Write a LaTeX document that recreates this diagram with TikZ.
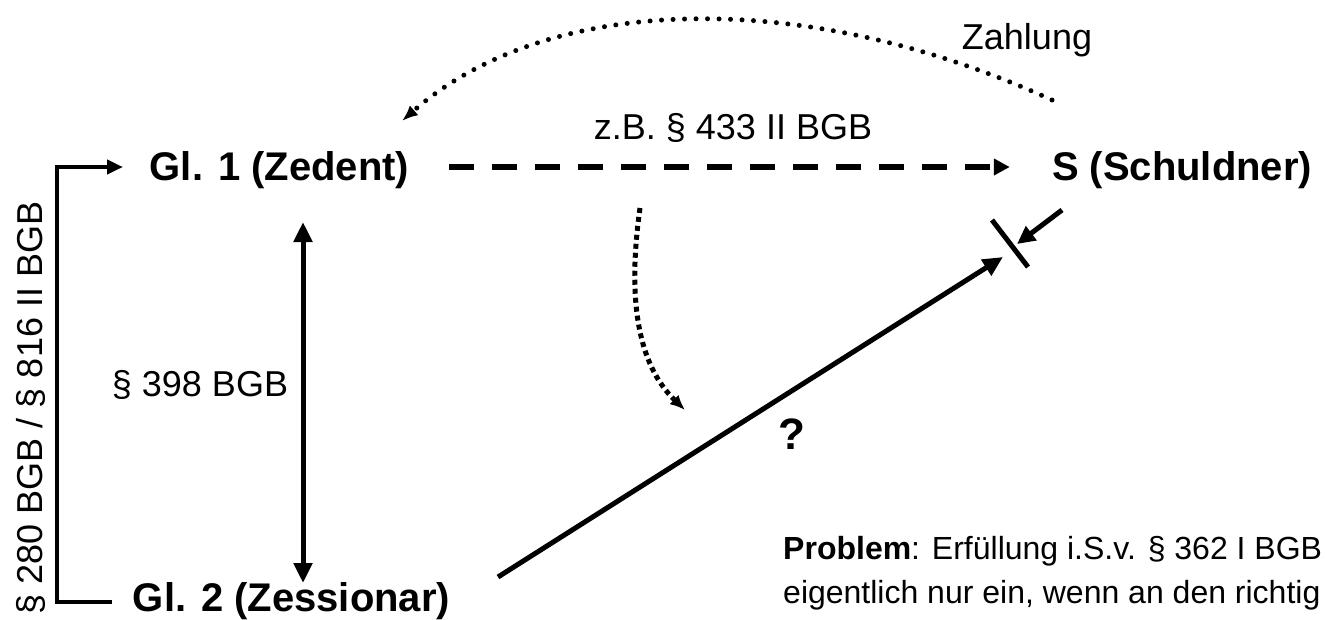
\documentclass[tikz,border=0pt]{standalone}
\usepackage{fontspec}
\setmainfont{Liberation Sans}
\usetikzlibrary{arrows.meta}
\tikzset{
  party/.style={inner sep=0pt, anchor=base, font=\fontsize{40}{47}\selectfont\bfseries},
  lbl/.style={inner sep=0pt, font=\fontsize{36}{43}\selectfont},
  thickline/.style={line width=5pt},
  dotround/.style={line width=5pt, line cap=round, dash pattern=on 0pt off 11.5pt},
  dotsquare/.style={line width=5pt, dash pattern=on 5pt off 4pt},
}
\begin{document}
\begin{tikzpicture}[x=1pt,y=-1pt]
\useasboundingbox (0,0) rectangle (1325,619);
\clip (0,0) rectangle (1325,619);

% parties
\node[party] (g1) at (279.5,180) {Gl. 1 (Zedent)};
\node[party] (s)  at (1182,180) {S (Schuldner)};
\node[party] (g2) at (291.5,611) {Gl. 2 (Zessionar)};

% labels
\node[lbl] (zb) at (733,128) {z.B. § 433 II BGB};
\node[lbl] (za) at (1027,40) {Zahlung};
\node[lbl] (p398) at (200,385) {§ 398 BGB};
\node[lbl, rotate=90] (p280) at (31,408) {§ 280 BGB / § 816 II BGB};
\node[inner sep=0pt, font=\fontsize{44}{50}\selectfont\bfseries] (q) at (792,434) {?};
\node[inner sep=0pt, anchor=base west, font=\fontsize{32}{38}\selectfont] (pr1) at (783,559) {\textbf{Problem}: Erfüllung i.S.v. § 362 I BGB};
\node[inner sep=0pt, anchor=base west, font=\fontsize{32}{38}\selectfont] (pr2) at (783,603) {eigentlich nur ein, wenn an den richtig};

% dashed arrow Gl.1 -> S
\coordinate (dstart) at ([xshift=40pt]g1.east |- 0,167);
\coordinate (dend) at ([xshift=-42pt]s.west |- 0,167);
\draw[line width=6pt, dash pattern=on 25pt off 18pt, -{Triangle[length=16pt,width=16pt]}]
  (dstart) -- (dend);

% double arrow
\coordinate (d1) at (303,222);
\coordinate (d2) at (303,583);
\draw[thickline, {Triangle[length=20pt,width=18pt]}-{Triangle[length=20pt,width=18pt]}] (d1) -- (d2);

% bracket left
\coordinate (b0) at (112,602);
\coordinate (b1) at (57,602);
\coordinate (b2) at (57,167);
\coordinate (b3) at (123,167);
\draw[line width=4.5pt, -{Triangle[length=16pt,width=14pt]}] (b0) -- (b1) -- (b2) -- (b3);

% main line Gl.2 -> S (blocked)
\coordinate (m0) at (498,577);
\coordinate (m1) at (1003,257);
\draw[thickline, -{Triangle[length=20pt,width=18pt]}] (m0) -- (m1);

% bar
\coordinate (bar0) at (992,220);
\coordinate (bar1) at (1028,267);
\draw[thickline] (bar0) -- (bar1);

% small arrow from S
\coordinate (sa0) at (1062,210);
\coordinate (sa1) at (1017,244);
\draw[thickline, -{Triangle[length=18pt,width=17pt]}] (sa0) -- (sa1);

% Zahlung dotted arc
\coordinate (z0) at (1052,100);
\coordinate (z1) at (402,121);
\draw[dotround, -{Latex[length=16pt,width=13pt]}] (z0) .. controls (800,-15) and (545,-5) .. (z1);

% dotted curve down
\coordinate (c0) at (640,208);
\coordinate (c1) at (685,410);
\draw[dotsquare, -{Latex[length=15pt,width=13pt]}] (c0) .. controls (627,300) and (638,365) .. (c1);
\end{tikzpicture}
\end{document}
